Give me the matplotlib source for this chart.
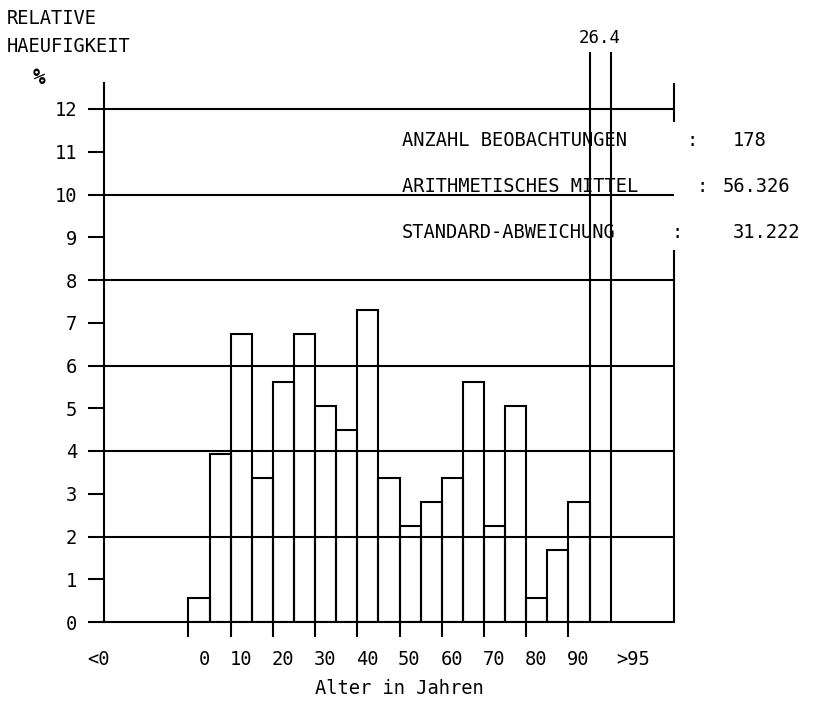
import numpy as np
import matplotlib

matplotlib.use("Agg")
import matplotlib.pyplot as plt

# --- data ------------------------------------------------------------------
n_obs = 178
mean_age = 56.326
std_age = 31.222
bin_start = list(range(-5, 95, 5))          # 5-year classes, labelled by upper limit
counts = [1, 7, 12, 6, 10, 12, 9, 8, 13, 6, 4, 5, 6, 10, 4, 9, 1, 3, 5, 47]
tick_labels = ["<0"] + [str(a) for a in range(0, 100, 10)] + [">95"]

rel = np.array(counts) / n_obs * 100        # relative frequency in %

# --- layout ----------------------------------------------------------------
W, H = 815, 706
FONT = ["DejaVu Sans Mono"]
FS = 13.5
LW = 1.5
X_MIN, X_MAX = -25, 110
Y_SHOWN = 12
PX_PER_UNIT = (622 - 109) / Y_SHOWN
Y_TOP = (622 - 52) / PX_PER_UNIT            # where the clipped bar stops

plt.rcParams.update({
    "font.family": FONT,
    "font.size": FS,
    "text.color": "black",
    "axes.linewidth": LW,
})

fig = plt.figure(figsize=(W / 100, H / 100), dpi=100)
fig.patch.set_facecolor("white")
ax = fig.add_axes([104 / W, 1 - 622 / H, (674 - 104) / W, (622 - 52) / H])
ax.set_xlim(X_MIN, X_MAX)
ax.set_ylim(0, Y_TOP)
ax.patch.set_alpha(0)


def px_text(x, y, s, **kw):
    fig.text(x / W, 1 - y / H, s, **kw)


# bars (unfilled, the tallest runs off the top of the frame)
ax.bar(bin_start, rel, width=5, align="edge", fill=False,
       edgecolor="black", linewidth=LW, zorder=3)
ax.annotate(f"{rel[-1]:.1f}", xy=(bin_start[-1] + 2.5, 1.0),
            xycoords=("data", "axes fraction"), xytext=(0, 3.5),
            textcoords="offset points", ha="center", va="bottom", fontsize=12.5)

# horizontal grid lines every 2 %
ax.hlines(np.arange(2, Y_SHOWN + 1, 2), X_MIN, X_MAX, color="black",
          linewidth=LW, zorder=2)

# frame
ax.spines["top"].set_visible(False)
ax.spines["right"].set_visible(False)
ax.spines["left"].set_bounds(0, 12.6)
ax.vlines([X_MAX, X_MAX], [0, 11.7], [8.7, 12.6], color="black",
          linewidth=LW, clip_on=False)

# y ticks
ax.set_yticks(range(0, Y_SHOWN + 1))
ax.tick_params(axis="y", direction="out", length=11.5, width=LW, pad=8,
               labelsize=FS)

# x ticks: marks every 10 years, labels at the right edge of each class
ax.set_xticks(bin_start[::2], [""] * len(bin_start[::2]))
ax.tick_params(axis="x", which="major", direction="out", length=11, width=LW)
label_pos = [-23.6] + [a for a in range(0, 100, 10)] + [104.3]
ax.set_xticks(label_pos, tick_labels, minor=True)
ax.tick_params(axis="x", which="minor", length=0, pad=20, labelsize=FS)
for t in ax.get_xticklabels(minor=True):
    t.set_horizontalalignment("right")

# axis titles
px_text(7, 19, "RELATIVE", ha="left", va="center")
px_text(7, 47, "HAEUFIGKEIT", ha="left", va="center")
px_text(39, 78, "%", ha="center", va="center", fontsize=15, weight="bold")
px_text(399, 689, "Alter in Jahren", ha="center", va="center", fontsize=13.5)

# statistics block
stats = [
    ("ANZAHL BEOBACHTUNGEN", f"{n_obs}", 141, 692, 733),
    ("ARITHMETISCHES MITTEL", f"{mean_age:.3f}", 186, 702, 723),
    ("STANDARD-ABWEICHUNG", f"{std_age:.3f}", 232, 677, 733),
]
for label, value, y, x_colon, x_val in stats:
    px_text(402, y, label, ha="left", va="center")
    px_text(x_colon, y, ":", ha="center", va="center")
    px_text(x_val, y, value, ha="left", va="center")

fig.savefig("out.png", dpi=100, facecolor="white")
